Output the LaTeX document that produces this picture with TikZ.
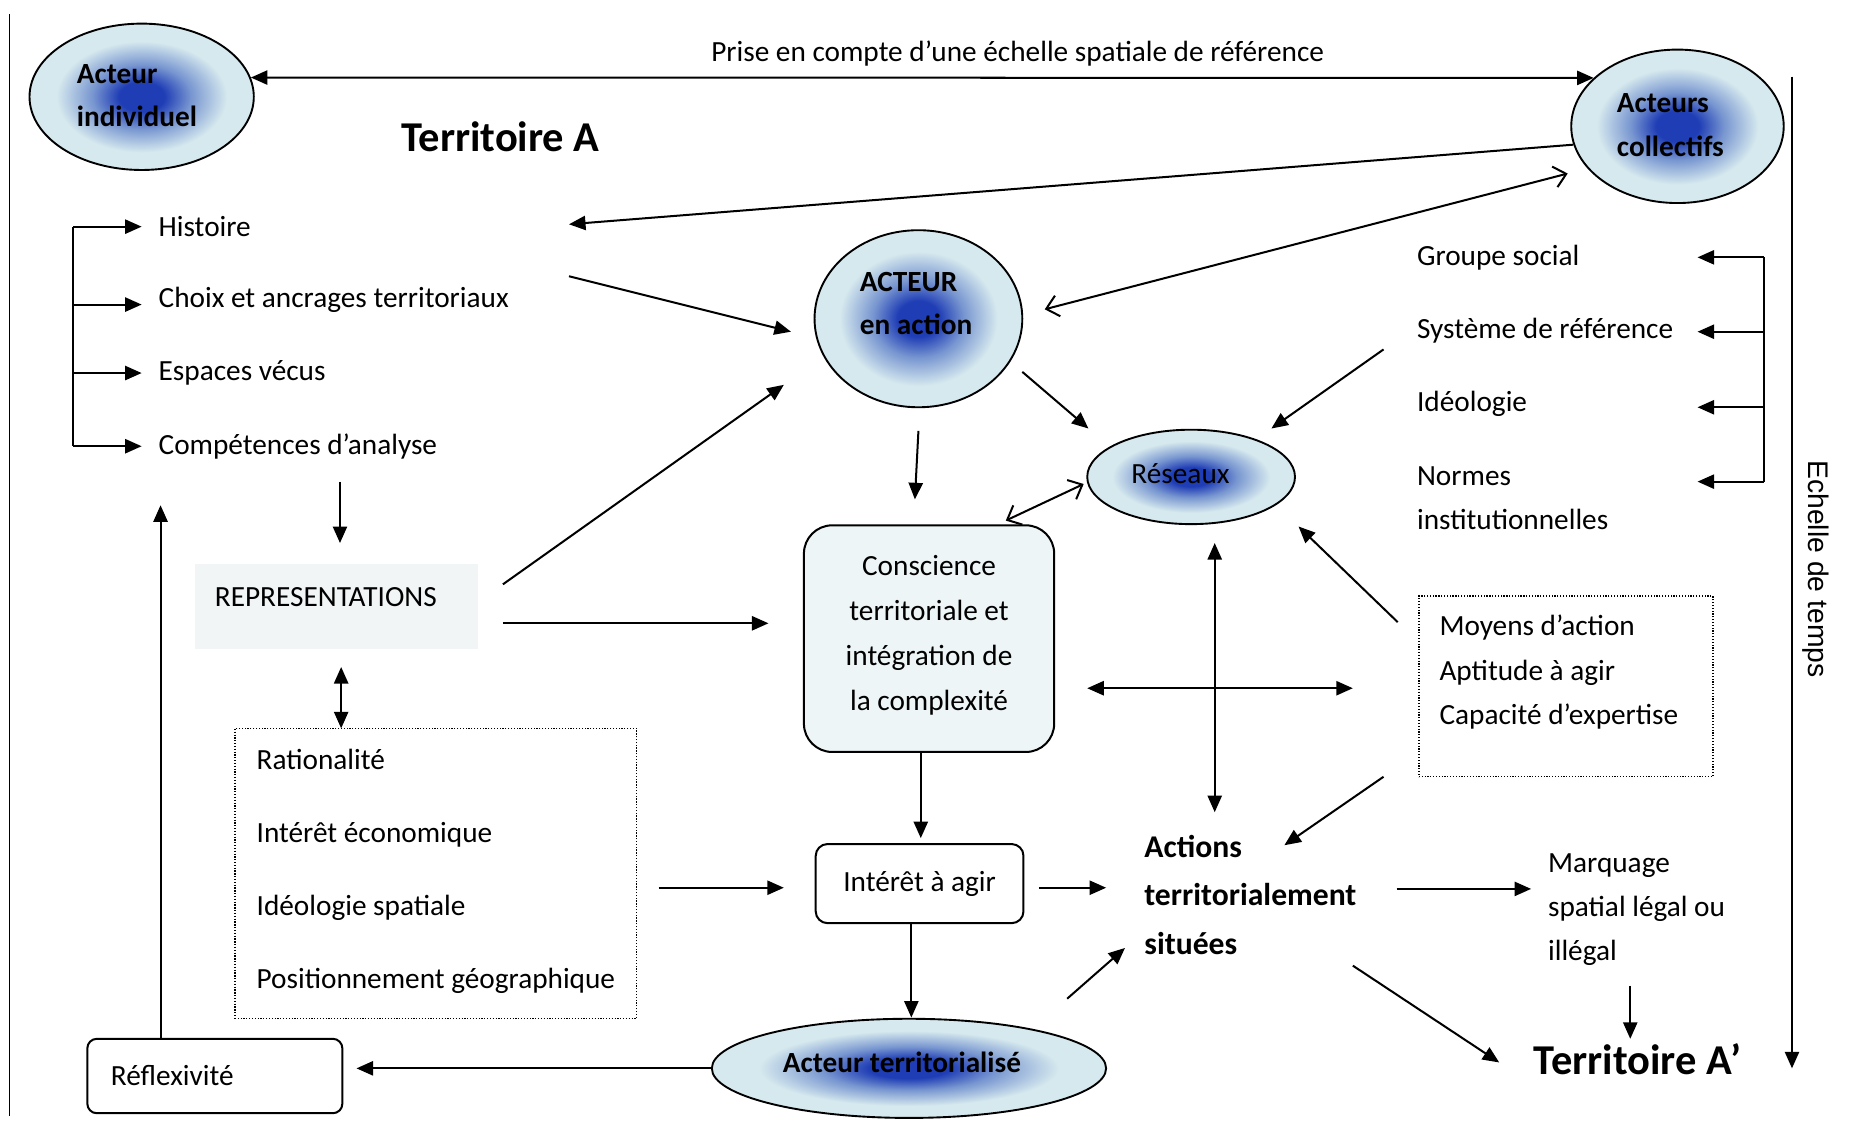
\documentclass[tikz,border=0pt]{standalone}
\usepackage{fontspec}
\setmainfont{Carlito}
\newfontfamily\arialf{Liberation Sans}
\usetikzlibrary{arrows.meta,shapes.geometric}
\definecolor{blobC}{HTML}{1F3DB5}
\definecolor{blobM}{HTML}{7896D0}
\definecolor{blobO}{HTML}{D6E9EE}
\definecolor{boxfill}{HTML}{EDF5F7}
\definecolor{repfill}{HTML}{F1F5F6}
\pgfdeclareradialshading{blob}{\pgfpoint{0bp}{0bp}}{color(0bp)=(blobC); color(5bp)=(blobC); color(11bp)=(blobM); color(19bp)=(blobO); color(50bp)=(blobO)}
\begin{document}
\begin{tikzpicture}[x=0.5pt,y=-0.5pt,
  font=\fontsize{12.4}{18.5}\selectfont,
  ln/.style={line width=0.85pt},
  arr/.style={ln,-{Triangle[length=7pt,width=6pt]}},
  darr/.style={ln,{Triangle[length=7pt,width=6pt]}-{Triangle[length=7pt,width=6pt]}},
  oarr/.style={ln,{Straight Barb[length=5pt,width=9pt]}-{Straight Barb[length=5pt,width=9pt]}},
  blobnode/.style={ellipse, draw, line width=0.8pt, shade, shading=blob, inner sep=0pt},
  txt/.style={anchor=west, inner sep=0pt},
  lbl/.style={inner sep=0pt},
  boldtxt/.style={inner sep=0pt, align=left, font=\fontsize{12.4}{18.5}\selectfont\bfseries},
  bigtxt/.style={inner sep=0pt, font=\fontsize{18}{22}\selectfont\bfseries},
  dotbox/.style={draw, line width=0.6pt, dash pattern=on 0.5pt off 0.7pt}]
\useasboundingbox (0,0) rectangle (1568,958);

% frame line
\coordinate (f1) at (8,12);
\coordinate (f2) at (8,945);
\draw[line width=0.6pt] (f1) -- (f2);

% ellipses
\node[blobnode, minimum width=95pt, minimum height=62pt] (indiv) at (120,82) {};
\node[boldtxt] (indivT) at (116,81) {Acteur\\individuel};
\node[blobnode, minimum width=90pt, minimum height=65pt] (coll) at (1421,107) {};
\node[boldtxt] (collT) at (1415,106) {Acteurs\\collectifs};
\node[blobnode, minimum width=88pt, minimum height=75pt] (act) at (778,270) {};
\node[boldtxt] (actT) at (776,257) {ACTEUR\\en action};
\node[blobnode, minimum width=88pt, minimum height=40pt] (res) at (1009,404) {};
\node[lbl] (resT) at (1000,401) {Réseaux};
\node[blobnode, minimum width=167pt, minimum height=42pt] (terr) at (770,905) {};
\node[boldtxt] (terrT) at (764,900) {Acteur territorialisé};

% titles
\node[lbl] (prise) at (862,45) {Prise en compte d’une échelle spatiale de référence};
\node[bigtxt] (terA) at (424,116) {Territoire A};
\node[bigtxt] (terB) at (1387,897) {Territoire A’};

% left list
\node[txt] (hist) at (134,192) {Histoire};
\node[txt] (choix) at (134,254) {Choix et ancrages territoriaux};
\node[txt] (esp) at (134,316) {Espaces vécus};
\node[txt] (comp) at (134,378) {Compétences d’analyse};
\coordinate (lb1) at (62,192);
\coordinate (lb2) at (62,258);
\coordinate (lb3) at (62,316);
\coordinate (lb4) at (62,378);
\coordinate (lt1) at (120,192);
\coordinate (lt2) at (120,258);
\coordinate (lt3) at (120,316);
\coordinate (lt4) at (120,378);
\draw[ln] (lb1) -- (lb4);
\draw[arr] (lb1) -- (lt1);
\draw[arr] (lb2) -- (lt2);
\draw[arr] (lb3) -- (lt3);
\draw[arr] (lb4) -- (lt4);

% right list
\node[txt] (grp) at (1200,218) {Groupe social};
\node[txt] (sys) at (1200,280) {Système de référence};
\node[txt] (ideo) at (1200,342) {Idéologie};
\node[txt, align=left] (norm) at (1200,422) {Normes\\institutionnelles};
\coordinate (rb1) at (1494,218);
\coordinate (rb2) at (1494,281);
\coordinate (rb3) at (1494,345);
\coordinate (rb4) at (1494,408);
\coordinate (rt1) at (1438,218);
\coordinate (rt2) at (1438,281);
\coordinate (rt3) at (1438,345);
\coordinate (rt4) at (1438,408);
\draw[ln] (rb1) -- (rb4);
\draw[arr] (rb1) -- (rt1);
\draw[arr] (rb2) -- (rt2);
\draw[arr] (rb3) -- (rt3);
\draw[arr] (rb4) -- (rt4);

% time scale
\coordinate (et1) at (1518,65);
\coordinate (et2) at (1518,905);
\draw[arr] (et1) -- (et2);
\node[lbl, rotate=-90, font=\arialf\fontsize{12}{14}\selectfont] (ech) at (1538,482) {Echelle de temps};

% boxes
\node[fill=repfill, minimum width=120pt, minimum height=36pt, inner sep=0pt] (repbox) at (285,514) {};
\node[lbl] (rep) at (276,506) {REPRESENTATIONS};
\node[dotbox, minimum width=170pt, minimum height=123pt, inner sep=0pt] (ratb) at (369,740) {};
\node[txt, align=left, font=\fontsize{12.4}{31}\selectfont] (rat) at (217,738) {Rationalité\\Intérêt économique\\Idéologie spatiale\\Positionnement géographique};
\node[dotbox, minimum width=124.5pt, minimum height=76.5pt] (moyb) at (1326.5,581.5) {};
\node[txt, align=left, font=\fontsize{12.4}{18.75}\selectfont] (moy) at (1219,569.5) {Moyens d’action\\Aptitude à agir\\Capacité d’expertise};
\node[draw, ln, rounded corners=12pt, fill=boxfill, minimum width=106pt, minimum height=96pt, inner sep=0pt] (cons) at (787,541) {};
\node[lbl, align=center, font=\fontsize{12.4}{19}\selectfont] (consT) at (787,538) {Conscience\\territoriale et\\intégration de\\la complexité};
\node[draw, ln, rounded corners=5pt, minimum width=88pt, minimum height=33.5pt, inner sep=0pt] (int) at (779,748.5) {Intérêt à agir};
\node[draw, ln, rounded corners=4pt, minimum width=108pt, minimum height=31.5pt, text width=88pt, inner xsep=10pt, inner ysep=0pt, align=left] (refl) at (182,911.5) {Réflexivité};
\node[txt, align=left, font=\fontsize{13.4}{20.5}\selectfont\bfseries] (actions) at (969,758) {Actions\\territorialement\\situées};
\node[txt, align=left, font=\fontsize{12.4}{18.75}\selectfont] (marq) at (1311,770.5) {Marquage\\spatial légal ou\\illégal};

% connectors
\draw[darr] (indiv.10) -- (coll.150);
\coordinate (hTip) at (482,190);
\draw[arr] (coll.190) -- (hTip);
\coordinate (c1) at (482,234); \coordinate (c2) at (670,281);
\draw[arr] (c1) -- (c2);
\coordinate (d1) at (885,262); \coordinate (d2) at (1328,147);
\draw[oarr] (d1) -- (d2);
\coordinate (e1) at (288,408); \coordinate (e2) at (288,460);
\draw[arr] (e1) -- (e2);
\coordinate (g1) at (426,495); \coordinate (g2) at (664,326);
\draw[arr] (g1) -- (g2);
\coordinate (h1) at (426,528); \coordinate (h2) at (651,528);
\draw[arr] (h1) -- (h2);
\coordinate (i1) at (289,565); \coordinate (i2) at (289,617);
\draw[darr] (i1) -- (i2);
\coordinate (j1) at (558,752); \coordinate (j2) at (664,752);
\draw[arr] (j1) -- (j2);
\coordinate (k1) at (136,880); \coordinate (k2) at (136,428);
\draw[arr] (k1) -- (k2);
\coordinate (m2) at (302,905);
\draw[arr] (terr.west) -- (m2);
\coordinate (n1) at (778,365); \coordinate (n2) at (775,423);
\draw[arr] (n1) -- (n2);
\coordinate (o1) at (780,637); \coordinate (o2) at (780,710);
\draw[arr] (o1) -- (o2);
\coordinate (p1) at (772,782); \coordinate (p2) at (772,862);
\draw[arr] (p1) -- (p2);
\coordinate (q1) at (880,752); \coordinate (q2) at (937,752);
\draw[arr] (q1) -- (q2);
\coordinate (r1) at (904,846); \coordinate (r2) at (953,803);
\draw[arr] (r1) -- (r2);
\coordinate (s1) at (866,315); \coordinate (s2) at (922,363);
\draw[arr] (s1) -- (s2);
\coordinate (t1) at (1172,296); \coordinate (t2) at (1077,363);
\draw[arr] (t1) -- (t2);
\coordinate (u1) at (852,441); \coordinate (u2) at (918,410);
\draw[oarr] (u1) -- (u2);
\coordinate (v1) at (1029,460); \coordinate (v2) at (1029,688);
\draw[darr] (v1) -- (v2);
\coordinate (w1) at (921,583); \coordinate (w2) at (1146,583);
\draw[darr] (w1) -- (w2);
\coordinate (x1) at (1184,527); \coordinate (x2) at (1100,446);
\draw[arr] (x1) -- (x2);
\coordinate (y1) at (1172,658); \coordinate (y2) at (1088,716);
\draw[arr] (y1) -- (y2);
\coordinate (z1) at (1183,753); \coordinate (z2) at (1297,753);
\draw[arr] (z1) -- (z2);
\coordinate (aa1) at (1381,835); \coordinate (aa2) at (1381,880);
\draw[arr] (aa1) -- (aa2);
\coordinate (ab1) at (1146,818); \coordinate (ab2) at (1270,900);
\draw[arr] (ab1) -- (ab2);
\end{tikzpicture}
\end{document}
